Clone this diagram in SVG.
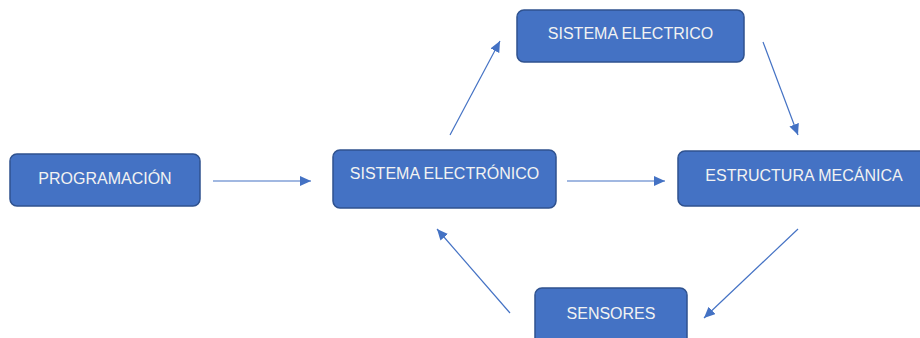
<svg xmlns="http://www.w3.org/2000/svg" width="920" height="338" viewBox="0 0 920 338">
<style>
.box{fill:#4472C4;stroke:#2F528F;stroke-width:1.5}
.lbl{font-family:"Liberation Sans",Arial,sans-serif;font-size:16px;fill:#F2F2F2;text-anchor:middle}
.edge{stroke:#4472C4;stroke-width:1.2;fill:none;marker-end:url(#ah)}
</style>
<defs>
<marker id="ah" markerUnits="userSpaceOnUse" markerWidth="12" markerHeight="10" refX="11" refY="5" orient="auto">
<path d="M0,0 L11,5 L0,10 Z" fill="#4472C4"/>
</marker>
</defs>
<rect width="920" height="338" fill="#FFFFFF"/>
<g id="connectors">
<line class="edge" x1="213" y1="181" x2="311" y2="181"/>
<line class="edge" x1="567" y1="181" x2="665" y2="181"/>
<line class="edge" x1="450" y1="135" x2="500" y2="41"/>
<line class="edge" x1="763" y1="42" x2="798" y2="135"/>
<line class="edge" x1="798" y1="229" x2="704" y2="318"/>
<line class="edge" x1="510" y1="313" x2="437" y2="229"/>
</g>
<g id="programacion">
<rect class="box" x="10" y="154" width="190" height="52" rx="7"/>
<text class="lbl" x="105" y="183.5">PROGRAMACIÓN</text>
</g>
<g id="sistema-electronico">
<rect class="box" x="333" y="150" width="223" height="58" rx="7"/>
<text class="lbl" x="444.5" y="178.5">SISTEMA ELECTRÓNICO</text>
</g>
<g id="sistema-electrico">
<rect class="box" x="517" y="10" width="227" height="52" rx="7"/>
<text class="lbl" x="630.5" y="38.5">SISTEMA ELECTRICO</text>
</g>
<g id="estructura-mecanica">
<rect class="box" x="678" y="151" width="252" height="55" rx="7"/>
<text class="lbl" x="804" y="180.5">ESTRUCTURA MECÁNICA</text>
</g>
<g id="sensores">
<rect class="box" x="535" y="288" width="152" height="60" rx="7"/>
<text class="lbl" x="611" y="318.5">SENSORES</text>
</g>
</svg>
